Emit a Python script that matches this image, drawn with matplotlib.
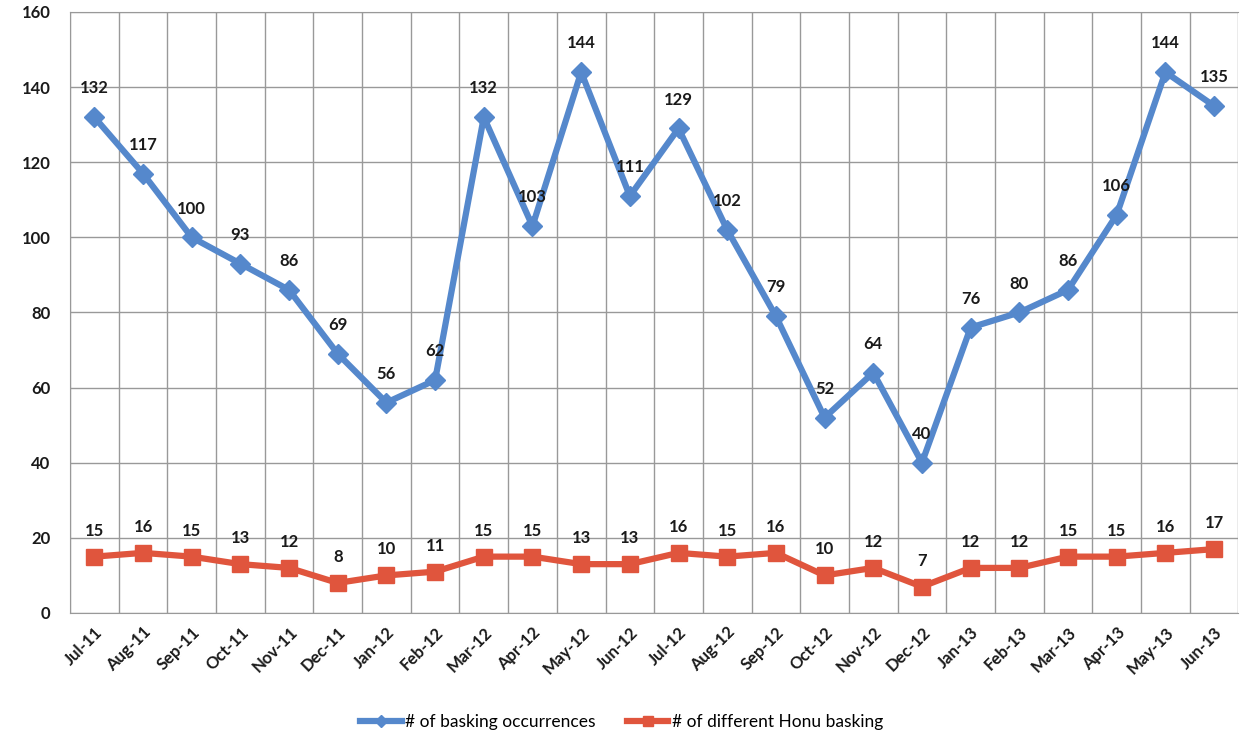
import matplotlib.pyplot as plt
import numpy as np

months = ["Jul-11", "Aug-11", "Sep-11", "Oct-11", "Nov-11", "Dec-11", "Jan-12", "Feb-12",
          "Mar-12", "Apr-12", "May-12", "Jun-12", "Jul-12", "Aug-12", "Sep-12", "Oct-12",
          "Nov-12", "Dec-12", "Jan-13", "Feb-13", "Mar-13", "Apr-13", "May-13", "Jun-13"]
basking = [132, 117, 100, 93, 86, 69, 56, 62, 132, 103, 144, 111, 129, 102, 79, 52,
           64, 40, 76, 80, 86, 106, 144, 135]
honu = [15, 16, 15, 13, 12, 8, 10, 11, 15, 15, 13, 13, 16, 15, 16, 10,
        12, 7, 12, 12, 15, 15, 16, 17]

plt.rcParams['font.family'] = ['Lato', 'DejaVu Sans']

fig = plt.figure(figsize=(12.43, 7.5), dpi=100)
ax = fig.add_axes([0.0563, 0.1827, 0.94, 0.8013])

x = np.arange(len(months))
blue = "#5588cc"
red = "#e0553d"

ax.plot(x, basking, color=blue, lw=4.5, marker="D", ms=10, mfc=blue, mec=blue,
        label="# of basking occurrences", zorder=3)
ax.plot(x, honu, color=red, lw=4.5, marker="s", ms=11, mfc=red, mec=red,
        label="# of different Honu basking", zorder=3)

for xi, v in zip(x, basking):
    ax.annotate(str(v), (xi, v), xytext=(0, 15), textcoords="offset points",
                ha="center", va="bottom", fontsize=12, fontweight="bold", color="#1a1a1a")
for xi, v in zip(x, honu):
    ax.annotate(str(v), (xi, v), xytext=(0, 13), textcoords="offset points",
                ha="center", va="bottom", fontsize=12, fontweight="bold", color="#1a1a1a")

ax.set_xlim(-0.5, len(months) - 0.5)
ax.set_ylim(0, 160)
ax.set_yticks(range(0, 161, 20))
ax.set_xticks(x)
ax.set_xticklabels(months, rotation=45, ha="right", rotation_mode="anchor",
                   fontsize=12, fontweight="bold", color="#1a1a1a")
ax.set_xticks(np.arange(-0.5, len(months), 1), minor=True)
ax.tick_params(axis="x", which="both", length=0, pad=8)
ax.tick_params(axis="y", length=0, labelsize=12, pad=14, labelcolor="#1a1a1a")
for lbl in ax.get_yticklabels():
    lbl.set_fontweight("bold")

ax.grid(False)
ax.grid(axis="x", which="minor", color="#999999", lw=1)
ax.grid(axis="y", which="major", color="#999999", lw=1)
for s in ax.spines.values():
    s.set_color("#999999")
ax.spines["right"].set_visible(False)

fig.legend(loc="center", bbox_to_anchor=(0.5, 0.037), ncol=2, frameon=False,
           fontsize=12.5, handlelength=2.4, columnspacing=1.8, markerscale=0.6,
           handletextpad=0.2)

fig.savefig("out.png", dpi=100)
